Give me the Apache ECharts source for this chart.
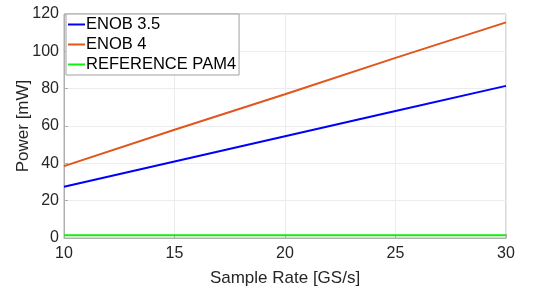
<!DOCTYPE html>
<html><head><meta charset="utf-8">
<script src="https://cdn.jsdelivr.net/npm/echarts@6/dist/echarts.min.js"></script>
<style>html,body{margin:0;padding:0;background:#fff}#c{width:546px;height:289px}</style>
</head><body><div id="c"></div>
<script>
const sampleRates = [10, 15, 20, 25, 30];
const enob35 = [27.5, 41, 54.5, 68, 81.5];
const enob4 = [38.5, 58, 77, 96.5, 115.5];
const refPam4 = [1.5, 1.5, 1.5, 1.5, 1.5];
const seriesNames = ['ENOB 3.5', 'ENOB 4', 'REFERENCE PAM4'];
const colors = ['#0000ff', '#e0561c', '#11ee11'];
const toPairs = v => sampleRates.map((x, i) => [x, v[i]]);
const chart = echarts.init(document.getElementById('c'));
const font = 'Liberation Sans, Arial, sans-serif';
chart.setOption({
  animation: false,
  grid: {left: 64, right: 40, top: 14, bottom: 51, outerBoundsMode: 'none', containLabel: false, show: true, borderColor: '#b0b0b0', borderWidth: 1, backgroundColor: '#fff'},
  legend: {
    left: 66, top: 14, orient: 'vertical', backgroundColor: '#fff', borderColor: '#a0a0a0', borderWidth: 1,
    padding: [2, 3, 2, 2], itemGap: 3, itemWidth: 17, itemHeight: 2, icon: 'rect',
    textStyle: {fontFamily: font, fontSize: 16.5, color: '#000', padding: [0, 0, 0, -4]},
    data: seriesNames
  },
  xAxis: {
    type: 'value', min: 10, max: 30, interval: 5,
    name: 'Sample Rate [GS/s]', nameLocation: 'middle', nameGap: 32, nameMoveOverlap: false,
    nameTextStyle: {fontFamily: font, fontSize: 17, color: '#262626'},
    axisLine: {show: true, lineStyle: {color: '#b0b0b0'}},
    axisTick: {show: true, inside: true, length: 4, lineStyle: {color: '#b0b0b0'}},
    axisLabel: {fontFamily: font, fontSize: 16, color: '#262626', margin: 8},
    splitLine: {show: true, lineStyle: {color: '#ececec'}}
  },
  yAxis: {
    type: 'value', min: 0, max: 120, interval: 20,
    name: 'Power [mW]', nameLocation: 'middle', nameGap: 32, nameMoveOverlap: false,
    nameTextStyle: {fontFamily: font, fontSize: 17, color: '#262626'},
    axisLine: {show: true, lineStyle: {color: '#b0b0b0'}},
    axisTick: {show: true, inside: true, length: 4, lineStyle: {color: '#b0b0b0'}},
    axisLabel: {fontFamily: font, fontSize: 16, color: '#262626', margin: 5},
    splitLine: {show: true, lineStyle: {color: '#ececec'}}
  },
  series: [
    {name: seriesNames[0], type: 'line', data: toPairs(enob35), showSymbol: false, lineStyle: {width: 2, color: colors[0]}, itemStyle: {color: colors[0]}},
    {name: seriesNames[1], type: 'line', data: toPairs(enob4), showSymbol: false, lineStyle: {width: 2, color: colors[1]}, itemStyle: {color: colors[1]}},
    {name: seriesNames[2], type: 'line', data: toPairs(refPam4), showSymbol: false, lineStyle: {width: 2, color: colors[2]}, itemStyle: {color: colors[2]}}
  ]
});
</script></body></html>
